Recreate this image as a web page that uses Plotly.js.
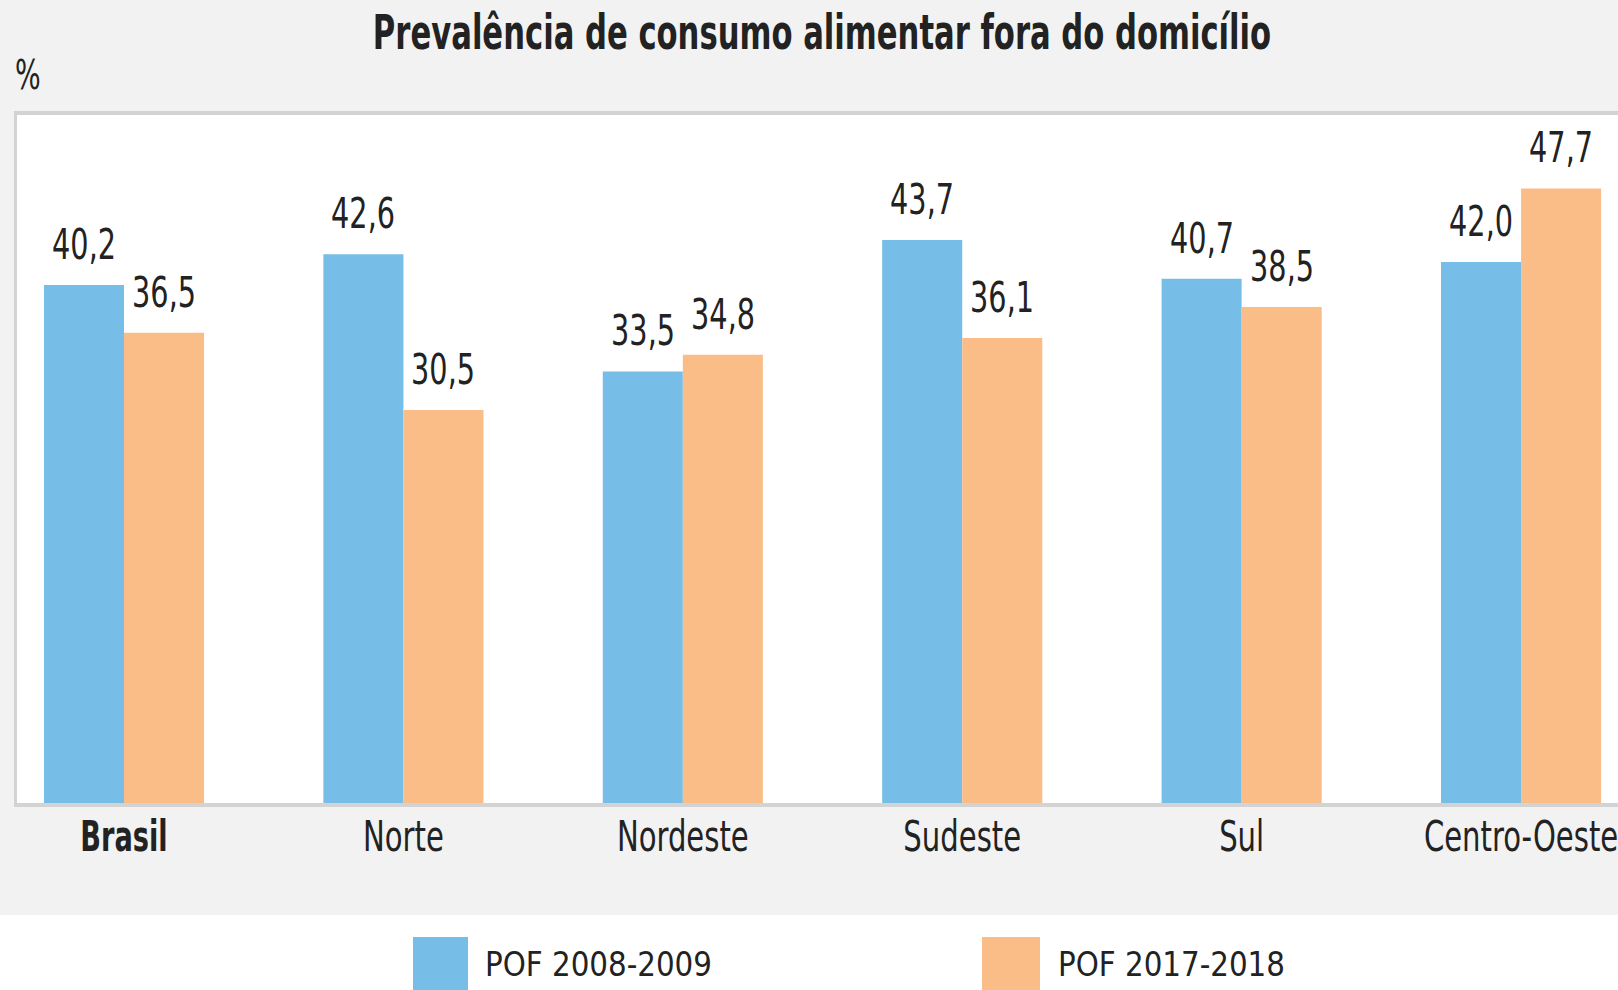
<!DOCTYPE html>
<html>
<head>
<meta charset="utf-8">
<script src="https://cdn.plot.ly/plotly-3.0.1.min.js"></script>
<style>
  html, body { margin: 0; padding: 0; background: #f2f2f2; }
  #chart { width: 1618px; height: 990px; }
</style>
</head>
<body>
<div id="chart"></div>
<script>
// ---- data ----
const categories = ["Brasil", "Norte", "Nordeste", "Sudeste", "Sul", "Centro-Oeste"];
const tickLabels = ["<b>Brasil</b>", "Norte", "Nordeste", "Sudeste", "Sul", "Centro-Oeste"];
const seriesNames = ["POF 2008-2009", "POF 2017-2018"];
const pof2008 = [40.2, 42.6, 33.5, 43.7, 40.7, 42.0];
const pof2018 = [36.5, 30.5, 34.8, 36.1, 38.5, 47.7];
const seriesValues = [pof2008, pof2018];
const seriesColors = ["#76bde8", "#fbbd87"];
const titleText = "Prevalência de consumo alimentar fora do domicílio";
const unitText = "%";

// ---- layout helpers ----
const W = 1618, H = 990;
const M = { l: 17, r: 0, t: 115, b: 187 };
const PW = W - M.l - M.r, PH = H - M.t - M.b;
const px2x = p => (p - M.l) / PW;
const px2y = p => (H - M.b - p) / PH;
const FONT = "'DejaVu Sans Condensed', 'Liberation Sans Narrow', sans-serif";
const fmt = v => v.toFixed(1).replace(".", ",");

// horizontal condensing factors (reference uses a very narrow typeface)
const K_TITLE = 0.71, K_VALUE = 0.76, K_TICK = 0.77, K_TICK_BOLD = 0.72, K_UNIT = 0.75, K_LEGEND = 0.96;

const traces = seriesValues.map((vals, s) => ({
  type: "bar",
  name: seriesNames[s],
  x: categories,
  y: vals,
  marker: { color: seriesColors[s], line: { width: 0 } },
  hoverinfo: "x+y",
  showlegend: false
}));

const annotations = [];
const annK = [];
const offsets = [-40, 40];
seriesValues.forEach((vals, s) => {
  vals.forEach((v, i) => {
    annotations.push({
      x: categories[i], y: v, xref: "x", yref: "y",
      text: fmt(v), showarrow: false,
      xshift: offsets[s], yshift: 14,
      xanchor: "center", yanchor: "bottom",
      font: { family: FONT, size: 42, color: "#222" }
    });
    annK.push(K_VALUE);
  });
});
annotations.push({
  xref: "paper", yref: "paper", x: px2x(13), y: px2y(75),
  xanchor: "left", yanchor: "middle", align: "left", text: unitText, showarrow: false,
  font: { family: FONT, size: 40, color: "#222" }
});
annK.push(K_UNIT);

const legendX = [[413, 468, 483], [982, 1040, 1056]];
const shapes = [{
  type: "rect", xref: "paper", yref: "paper", layer: "below",
  x0: -0.05, x1: 1.05, y0: px2y(915), y1: px2y(1000),
  fillcolor: "#ffffff", line: { width: 0 }
}];
seriesNames.forEach((n, s) => {
  shapes.push({
    type: "rect", xref: "paper", yref: "paper",
    x0: px2x(legendX[s][0]), x1: px2x(legendX[s][1]),
    y0: px2y(937), y1: px2y(1000),
    fillcolor: seriesColors[s], line: { width: 0 }
  });
  annotations.push({
    xref: "paper", yref: "paper", x: px2x(legendX[s][2]), y: px2y(964),
    xanchor: "left", yanchor: "middle", align: "left", text: n, showarrow: false,
    font: { family: FONT, size: 34, color: "#222" }
  });
  annK.push(K_LEGEND);
});

const layout = {
  width: W, height: H,
  margin: M,
  paper_bgcolor: "#f2f2f2",
  plot_bgcolor: "#ffffff",
  barmode: "group",
  bargap: 0.427,
  bargroupgap: 0,
  title: {
    text: "<b>" + titleText + "</b>",
    xref: "container", yref: "container",
    x: 822 / W, xanchor: "center",
    y: 1 - 32 / H, yanchor: "middle",
    font: { family: FONT, size: 48, color: "#222" }
  },
  xaxis: {
    type: "category",
    range: [-0.383, 5.347],
    tickvals: categories, ticktext: tickLabels,
    showline: true, linecolor: "#d3d3d3", linewidth: 4, mirror: true,
    showgrid: false, zeroline: false, ticks: "",
    ticklabelstandoff: -6,
    tickfont: { family: FONT, size: 42, color: "#222" }
  },
  yaxis: {
    range: [0, 53.4],
    showline: true, linecolor: "#d3d3d3", linewidth: 3,
    showgrid: false, zeroline: false, showticklabels: false, ticks: ""
  },
  annotations: annotations,
  shapes: shapes,
  showlegend: false
};

// condense a text element horizontally about its anchor x
function squeeze(el, k) {
  if (!el || k === 1) return;
  const x = parseFloat(el.getAttribute("x") || "0") || 0;
  const t = el.getAttribute("transform") || "";
  el.setAttribute("transform", (t + " translate(" + x + ",0) scale(" + k + ",1) translate(" + (-x) + ",0)").trim());
}

Plotly.newPlot("chart", traces, layout, { displayModeBar: false, responsive: false })
  .then(gd => {
    squeeze(gd.querySelector("text.gtitle"), K_TITLE);
    gd.querySelectorAll(".xtick text").forEach(el => {
      squeeze(el, /Brasil/.test(el.textContent) ? K_TICK_BOLD : K_TICK);
    });
    gd.querySelectorAll("g.annotation").forEach(g => {
      const i = +g.getAttribute("data-index");
      squeeze(g.querySelector("text.annotation-text"), annK[i]);
    });
  });
</script>
</body>
</html>
